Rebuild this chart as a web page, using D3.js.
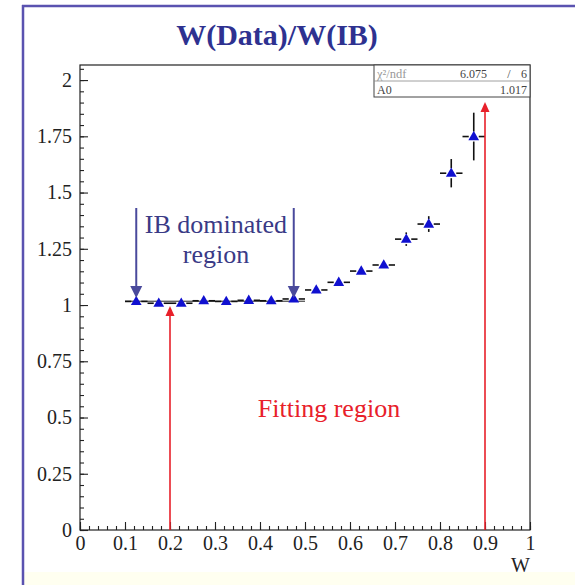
<!DOCTYPE html>
<html><head><meta charset="utf-8">
<script src="https://cdn.jsdelivr.net/npm/d3@7"></script>
<style>
html,body{margin:0;padding:0;background:#fff;}
svg{display:block;}
text{font-family:"Liberation Serif","Times New Roman",serif;}
</style></head>
<body>
<svg id="c" width="575" height="585"></svg>
<script>
// ---- data ----
const binCenters = [0.125,0.175,0.225,0.275,0.325,0.375,0.425,0.475,0.525,0.575,0.625,0.675,0.725,0.775,0.825,0.875];
const ratio      = [1.016,1.008,1.008,1.019,1.016,1.021,1.019,1.027,1.067,1.101,1.151,1.178,1.293,1.360,1.586,1.749];
const ratioErr   = [0.012,0.011,0.011,0.011,0.011,0.011,0.011,0.012,0.013,0.015,0.018,0.022,0.030,0.035,0.063,0.106];
const binHalfWidth = 0.025;
const xTicks = [0,0.1,0.2,0.3,0.4,0.5,0.6,0.7,0.8,0.9,1];
const yTicks = [0,0.25,0.5,0.75,1,1.25,1.5,1.75,2];
const fitA0 = 1.017, fitRange = [0.1,0.5];
const ibRegion = [0.125,0.475];
const fitRegion = [0.2,0.9];
const statRows = [["\u03c7\u00b2/ndf","6.075","/","6"],["A0","1.017"]];

const svg = d3.select("#c");
// page background & frame
svg.append("rect").attr("x",0).attr("y",0).attr("width",575).attr("height",585).attr("fill","#fff");
svg.append("rect").attr("x",23).attr("y",572).attr("width",552).attr("height",13).attr("fill","#fffff0");
svg.append("line").attr("x1",22).attr("x2",575).attr("y1",6).attr("y2",6).attr("stroke","#5a52b0").attr("stroke-width",2.5);
svg.append("line").attr("x1",23).attr("x2",23).attr("y1",5).attr("y2",585).attr("stroke","#5a52b0").attr("stroke-width",2.5);

// title
svg.append("text").attr("x",277).attr("y",45).attr("text-anchor","middle")
  .attr("font-size",30).attr("font-weight","bold").attr("fill","#2e3190").text("W(Data)/W(IB)");

const L=80,R=530,T=65,B=530;
const x = d3.scaleLinear().domain([0,1]).range([L,R]);
const y = d3.scaleLinear().domain([0,2.067]).range([B,T]);

// frame
svg.append("rect").attr("x",L).attr("y",T).attr("width",R-L).attr("height",B-T)
  .attr("fill","none").attr("stroke","#222").attr("stroke-width",1.2);

// axes
const xMinor = d3.range(0,1.0001,0.02);
const yMinor = d3.range(0,2.06,0.05);
const gx = svg.append("g").attr("transform",`translate(0,${B})`);
gx.call(d3.axisBottom(x).tickValues(xMinor).tickSize(-4).tickFormat(""));
const gx2 = svg.append("g").attr("transform",`translate(0,${B})`);
gx2.call(d3.axisBottom(x).tickValues(xTicks).tickSize(-8).tickPadding(6).tickFormat(d=>d3.format("")(d)));
const gy = svg.append("g").attr("transform",`translate(${L},0)`);
gy.call(d3.axisLeft(y).tickValues(yMinor).tickSize(-4).tickFormat(""));
const gy2 = svg.append("g").attr("transform",`translate(${L},0)`);
gy2.call(d3.axisLeft(y).tickValues(yTicks).tickSize(-8).tickPadding(8).tickFormat(d=>d3.format("")(d)));
svg.selectAll(".domain").remove();
svg.selectAll(".tick line").attr("stroke","#222").attr("stroke-width",1.1);
svg.selectAll(".tick text").attr("font-family","Liberation Serif, serif").attr("font-size",20).attr("fill","#222");

svg.append("text").attr("x",R).attr("y",572).attr("text-anchor","end").attr("font-size",20).attr("fill","#222").text("W");

// fit line
svg.append("line").attr("x1",x(fitRange[0])).attr("x2",x(fitRange[1])).attr("y1",y(fitA0)).attr("y2",y(fitA0))
  .attr("stroke","#222").attr("stroke-width",1);

// error bars
const gap = 5;
const eb = svg.append("g").attr("stroke","#111").attr("stroke-width",1.6);
binCenters.forEach((c,i)=>{
  const cx=x(c), cy=y(ratio[i]);
  eb.append("line").attr("x1",x(c-binHalfWidth)).attr("x2",cx-gap).attr("y1",cy).attr("y2",cy);
  eb.append("line").attr("x1",cx+gap).attr("x2",x(c+binHalfWidth)).attr("y1",cy).attr("y2",cy);
  const top=y(ratio[i]+ratioErr[i]), bot=y(ratio[i]-ratioErr[i]);
  if (cy-top>gap) eb.append("line").attr("x1",cx).attr("x2",cx).attr("y1",top).attr("y2",cy-gap);
  if (bot-cy>gap) eb.append("line").attr("x1",cx).attr("x2",cx).attr("y1",cy+gap).attr("y2",bot);
});
// markers
const tri = d3.symbol().type(d3.symbolTriangle).size(50);
svg.append("g").selectAll("path").data(binCenters).join("path")
  .attr("d",tri).attr("transform",(d,i)=>`translate(${x(d)},${y(ratio[i])+0.5})`).attr("fill","#1010d0");

// arrows
function arrow(xp,y1,y2,color,w,hw,hl){
  const dir = y2>y1?1:-1;
  svg.append("line").attr("x1",xp).attr("x2",xp).attr("y1",y1).attr("y2",y2-dir*hl*0.8)
    .attr("stroke",color).attr("stroke-width",w);
  svg.append("path").attr("d",`M${xp},${y2} L${xp-hw},${y2-dir*hl} L${xp+hw},${y2-dir*hl} Z`).attr("fill",color);
}
const blue="#4a4a9c";
arrow(x(ibRegion[0]),208,298,blue,2,6,12);
arrow(x(ibRegion[1]),208,298,blue,2,6,12);
arrow(x(fitRegion[0]),B,306,"#e8202a",1.6,4.5,10);
arrow(x(fitRegion[1]),B,102,"#e8202a",1.6,4.5,10);

svg.append("text").attr("x",216).attr("y",233).attr("text-anchor","middle").attr("font-size",26).attr("fill","#3a3a86").text("IB dominated");
svg.append("text").attr("x",216).attr("y",263).attr("text-anchor","middle").attr("font-size",26).attr("fill","#3a3a86").text("region");
svg.append("text").attr("x",329).attr("y",417).attr("text-anchor","middle").attr("font-size",26).attr("fill","#e8202a").text("Fitting region");

// stats box
const sb = svg.append("g");
sb.append("rect").attr("x",374).attr("y",T).attr("width",R-374).attr("height",32).attr("fill","#fff").attr("stroke","#444").attr("stroke-width",1);
sb.append("line").attr("x1",374).attr("x2",R).attr("y1",81).attr("y2",81).attr("stroke","#888").attr("stroke-width",0.8);
sb.append("text").attr("x",377).attr("y",78).attr("font-size",12.5).attr("font-family","DejaVu Sans, sans-serif").attr("fill","#999").text(statRows[0][0]);
sb.append("text").attr("x",487).attr("y",78).attr("text-anchor","end").attr("font-size",12).attr("fill","#444").text(statRows[0][1]);
sb.append("text").attr("x",509).attr("y",78).attr("text-anchor","middle").attr("font-size",12).attr("fill","#444").text(statRows[0][2]);
sb.append("text").attr("x",527).attr("y",78).attr("text-anchor","end").attr("font-size",12).attr("fill","#444").text(statRows[0][3]);
sb.append("text").attr("x",377).attr("y",94).attr("font-size",12).attr("fill","#444").text(statRows[1][0]);
sb.append("text").attr("x",527).attr("y",94).attr("text-anchor","end").attr("font-size",12).attr("fill","#444").text(statRows[1][1]);
</script>
</body></html>
